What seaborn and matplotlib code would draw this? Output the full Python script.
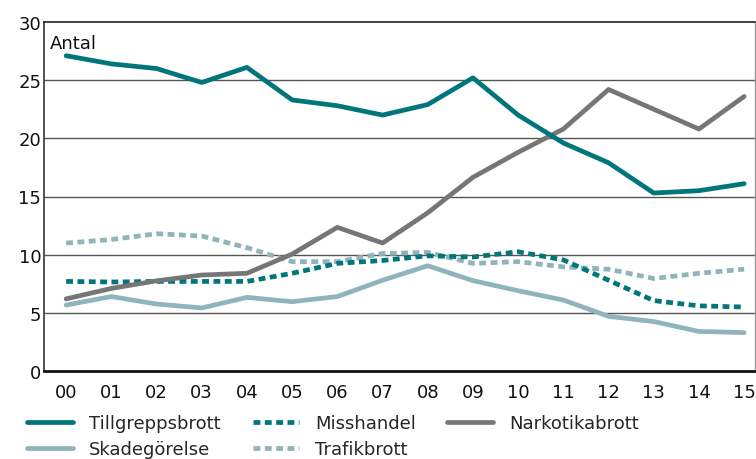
import matplotlib
matplotlib.use("Agg")
import matplotlib.pyplot as plt
import seaborn as sns
import pandas as pd

years = ["00", "01", "02", "03", "04", "05", "06", "07", "08", "09", "10", "11", "12", "13", "14", "15"]
tillgrepp = [27.1, 26.4, 26.0, 24.8, 26.1, 23.3, 22.8, 22.0, 22.9, 25.2, 22.0, 19.6, 17.9, 15.3, 15.5, 16.1]
misshandel = [7.7, 7.65, 7.7, 7.7, 7.7, 8.4, 9.25, 9.5, 9.9, 9.8, 10.25, 9.55, 7.8, 6.05, 5.6, 5.5]
narkotika = [6.2, 7.1, 7.75, 8.25, 8.4, 10.05, 12.35, 11.0, 13.6, 16.65, 18.8, 20.8, 24.2, 22.5, 20.8, 23.6]
skadegorelse = [5.67, 6.4, 5.76, 5.42, 6.33, 5.96, 6.4, 7.8, 9.05, 7.77, 6.9, 6.1, 4.7, 4.25, 3.4, 3.3]
trafik = [11.0, 11.3, 11.8, 11.6, 10.6, 9.4, 9.4, 10.1, 10.2, 9.25, 9.4, 8.95, 8.75, 7.95, 8.4, 8.75]
yticks = [0, 5, 10, 15, 20, 25, 30]

TEAL = "#00757a"
GREY = "#767676"
LIGHT = "#8fb4bc"
FS = 13

sns.set_theme(style="white")
plt.rcParams["font.family"] = ["DejaVu Sans"]

fig = plt.figure(figsize=(7.56, 4.6), dpi=100)
ax = fig.add_axes([44 / 756, 1 - 372 / 460, (755 - 44) / 756, (372 - 23) / 460])

x = list(range(len(years)))
series = [
    ("Tillgreppsbrott", tillgrepp, TEAL, "-"),
    ("Skadegörelse", skadegorelse, LIGHT, "-"),
    ("Misshandel", misshandel, TEAL, (0, (1.45, 0.95))),
    ("Trafikbrott", trafik, LIGHT, (0, (1.45, 0.95))),
    ("Narkotikabrott", narkotika, GREY, "-"),
]
zorders = {"Tillgreppsbrott": 6, "Narkotikabrott": 5, "Misshandel": 4, "Trafikbrott": 3, "Skadegörelse": 2}

for name, vals, col, ls in series:
    df = pd.DataFrame({"x": x, "y": vals})
    sns.lineplot(data=df, x="x", y="y", ax=ax, color=col, linewidth=3.4,
                 linestyle=ls, label=name, zorder=zorders[name])
    line = ax.get_lines()[-1]
    line.set_dash_capstyle("butt")
    line.set_solid_capstyle("round")

ax.set_xlim(-0.49, 15.24)
ax.set_ylim(0, 30)
ax.set_xticks(x)
ax.set_xticklabels(years)
ax.set_yticks(yticks)
ax.set_xlabel("")
ax.set_ylabel("")
ax.tick_params(axis="both", labelsize=FS, colors="#111111", length=0)
ax.tick_params(axis="x", pad=9)
ax.tick_params(axis="y", pad=2)
for t in yticks[1:-1]:
    ax.axhline(t, color="#555555", linewidth=1.0, zorder=1)

ax.spines["top"].set_color("#222222")
ax.spines["top"].set_linewidth(1.2)
ax.spines["left"].set_color("#444444")
ax.spines["left"].set_linewidth(1.3)
ax.spines["bottom"].set_color("#111111")
ax.spines["bottom"].set_linewidth(2.0)
ax.spines["right"].set_color("#999999")
ax.spines["right"].set_linewidth(1.0)

ax.text(0.008, 0.94, "Antal", transform=ax.transAxes, fontsize=FS, color="#111111", va="center", ha="left")

ax.get_legend().remove()
handles, labels = ax.get_legend_handles_labels()
fig.legend(handles, labels, ncol=3, loc="upper left", bbox_to_anchor=(27 / 756, 1 - 415 / 460),
           frameon=False, fontsize=FS, handlelength=2.55, handletextpad=0.9,
           columnspacing=1.75, labelspacing=0.45, borderaxespad=0, borderpad=0)

fig.savefig("out.png", dpi=100)
